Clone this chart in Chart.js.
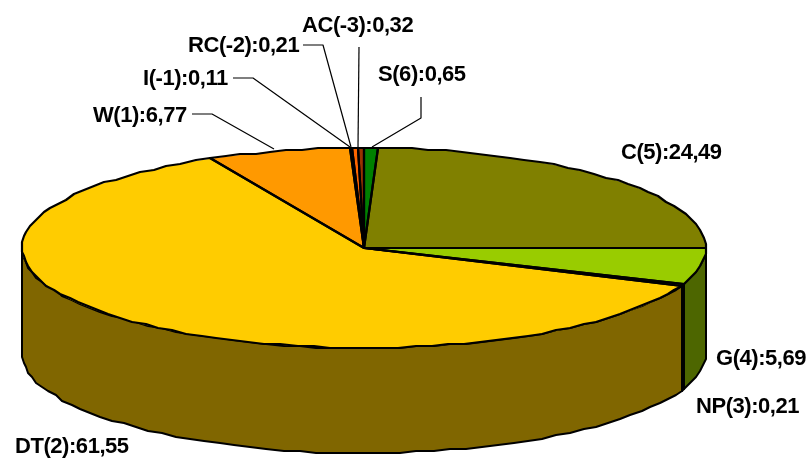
<!DOCTYPE html>
<html>
<head>
<meta charset="utf-8">
<script src="https://cdn.jsdelivr.net/npm/chart.js@4"></script>
<style>
  html, body { margin: 0; padding: 0; background: #fff; }
  #wrap { position: relative; width: 808px; height: 458px; }
</style>
</head>
<body>
<div id="wrap"><canvas id="myChart"></canvas></div>
<script>
const names = ['S(6)', 'C(5)', 'G(4)', 'NP(3)', 'DT(2)', 'W(1)', 'I(-1)', 'RC(-2)', 'AC(-3)'];
const values = [0.65, 24.49, 5.69, 0.21, 61.55, 6.77, 0.11, 0.21, 0.32];
const topColors = ['#008000', '#808000', '#99cc00', '#000000', '#ffcc00', '#ff9900', '#993300', '#ff6600', '#993300'];
const sideColors = ['#004000', '#404000', '#4d6600', '#000000', '#806600', '#804d00', '#4d1a00', '#803300', '#4d1a00'];

// where each label goes on the page: x, y (baseline), leader line points
const labelPos = [
    { x: 378, y: 81, line: [[421, 97], [421, 118], [372, 147]] },
    { x: 621, y: 159 },
    { x: 716, y: 365 },
    { x: 696, y: 413 },
    { x: 15, y: 453 },
    { x: 93, y: 122, line: [[192, 114], [212, 114], [274, 149]] },
    { x: 143, y: 85, line: [[233, 78], [253, 78], [350, 147]] },
    { x: 188, y: 52, line: [[303, 45], [323, 45], [351, 147]] },
    { x: 302, y: 32, line: [[359, 47], [358, 147]] }
];

// ellipse of the top face on the page, and wall height
const CX = 364, CY = 248, RX = 342, RY = 100, DEPTH = 105;

function fmt(v) {
    return v.toFixed(2).replace('.', ',');
}

// page position of a chart angle (same angle system as the arc elements)
// snapped to a small grid, the old renderer's edge is bumpy like that
function pt(a, dy) {
    const x = CX + RX * Math.cos(a), y = CY + RY * Math.sin(a);
    return [Math.round(x / 2) * 2, Math.round(y / 2) * 2 + dy];
}

function pathOf(ctx, a0, a1, dy, first) {
    const n = Math.max(1, Math.ceil(Math.abs(a1 - a0) / 0.05));
    for (let i = 0; i <= n; i++) {
        const p = pt(a0 + (a1 - a0) * i / n, dy);
        if (i === 0 && first) ctx.moveTo(p[0], p[1]);
        else ctx.lineTo(p[0], p[1]);
    }
}

const squash = {
    id: 'squash',
    beforeDatasetsDraw(chart) {
        const ctx = chart.ctx;
        const arcs = chart.getDatasetMeta(0).data;
        ctx.save();
        ctx.lineJoin = 'round';
        // walls, only the part of each slice facing the viewer (angle 0..PI)
        arcs.forEach((arc, i) => {
            const s = arc.startAngle, e = arc.endAngle;
            const segs = [[s, e], [s - 2 * Math.PI, e - 2 * Math.PI]];
            segs.forEach(seg => {
                const a0 = Math.max(seg[0], 0), a1 = Math.min(seg[1], Math.PI);
                if (a1 <= a0) return;
                ctx.beginPath();
                pathOf(ctx, a0, a1, 0, true);
                pathOf(ctx, a1, a0, DEPTH, false);
                ctx.closePath();
                ctx.fillStyle = sideColors[i];
                ctx.fill();
                ctx.lineWidth = 2;
                ctx.strokeStyle = '#000';
                ctx.stroke();
            });
        });
        ctx.restore();

        // library draws the slices, squeezed to the ellipse
        const c = arcs[0];
        const r = c.outerRadius;
        ctx.save();
        ctx.translate(CX, CY);
        ctx.scale(RX / r, RY / r);
        ctx.translate(-c.x, -c.y);
    },
    afterDatasetsDraw(chart) {
        const ctx = chart.ctx;
        ctx.restore();
        const arcs = chart.getDatasetMeta(0).data;
        ctx.save();
        ctx.strokeStyle = '#000';
        ctx.lineJoin = 'round';
        arcs.forEach(a => {
            ctx.beginPath();
            ctx.moveTo(CX, CY);
            pathOf(ctx, a.startAngle, a.endAngle, 0, false);
            ctx.closePath();
            ctx.lineWidth = 2.2;
            ctx.stroke();
        });

        // labels and leader lines
        ctx.font = 'bold 22px "Liberation Sans"';
        ctx.letterSpacing = '-0.45px';
        ctx.textBaseline = 'alphabetic';
        ctx.fillStyle = '#000';
        names.forEach((name, i) => {
            const p = labelPos[i];
            ctx.fillText(name + ':' + fmt(values[i]), p.x, p.y);
            if (p.line) {
                ctx.beginPath();
                p.line.forEach((q, j) => j ? ctx.lineTo(q[0], q[1]) : ctx.moveTo(q[0], q[1]));
                ctx.lineWidth = 1.2;
                ctx.stroke();
            }
        });
        ctx.restore();
    }
};

window.onload = () => {
    const ctx = document.getElementById('myChart').getContext('2d');
    new Chart(ctx, {
        type: 'pie',
        data: {
            labels: names,
            datasets: [{
                data: values,
                backgroundColor: topColors,
                borderWidth: 0
            }]
        },
        options: {
            responsive: true,
            maintainAspectRatio: false,
            animation: false,
            rotation: 0,
            plugins: {
                legend: { display: false },
                tooltip: { enabled: false }
            }
        },
        plugins: [squash]
    });
};
</script>
</body>
</html>
